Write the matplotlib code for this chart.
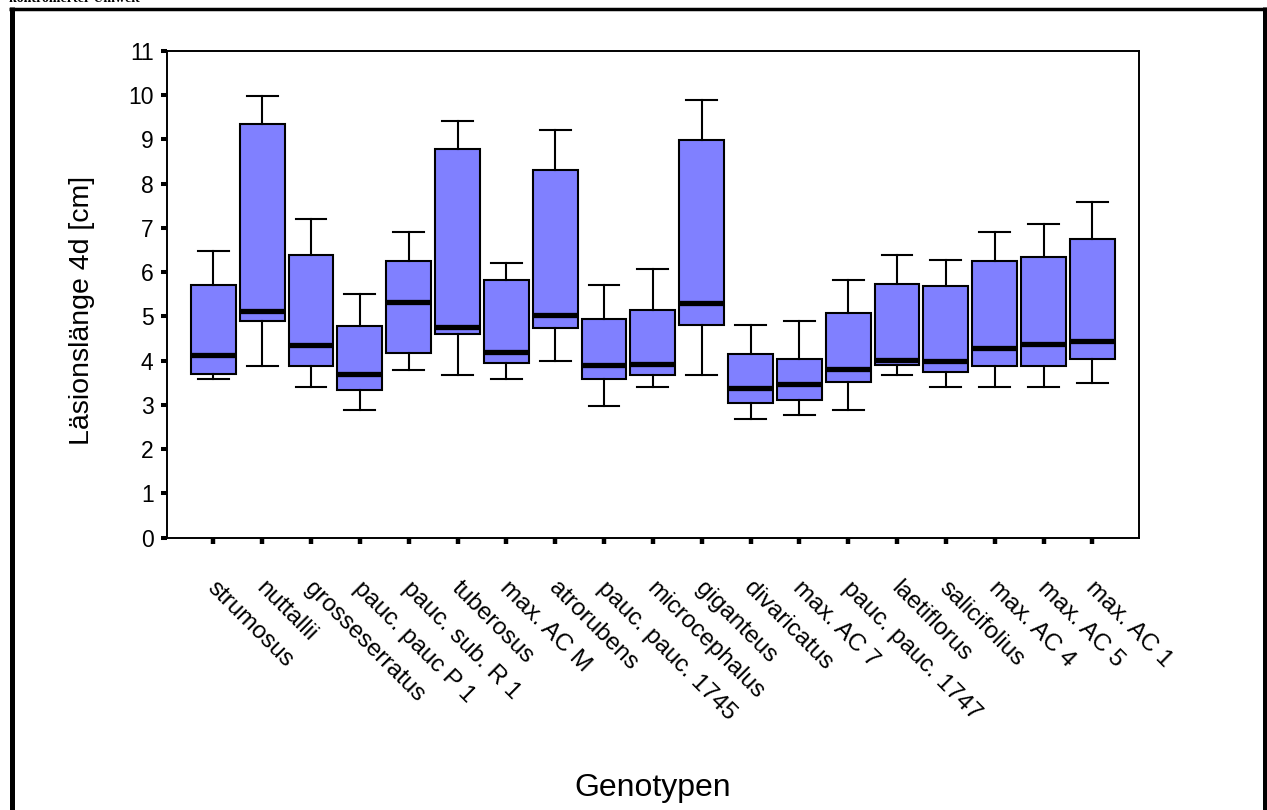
import matplotlib
matplotlib.use("Agg")
import matplotlib.pyplot as plt
from matplotlib.lines import Line2D
from matplotlib.transforms import ScaledTranslation

plt.rcParams['font.family'] = ['Liberation Sans', 'DejaVu Sans']

genotypes = ['strumosus', 'nuttallii', 'grosseserratus', 'pauc. pauc P 1',
             'pauc. sub. R 1', 'tuberosus', 'max. AC M', 'atrorubens',
             'pauc. pauc. 1745', 'microcephalus', 'giganteus', 'divaricatus',
             'max. AC 7', 'pauc. pauc. 1747', 'laetiflorus', 'salicifolius',
             'max. AC 4', 'max. AC 5', 'max. AC 1']

# lesion length after 4 days [cm]
whisker_low = [3.59, 3.88, 3.40, 2.88, 3.78, 3.68, 3.59, 3.98, 2.97, 3.40,
               3.68, 2.68, 2.78, 2.88, 3.68, 3.40, 3.40, 3.40, 3.49]
q1 = [3.69, 4.89, 3.88, 3.33, 4.18, 4.60, 3.95, 4.73, 3.59, 3.68,
      4.80, 3.04, 3.10, 3.52, 3.89, 3.75, 3.88, 3.88, 4.04]
median = [4.13, 5.13, 4.35, 3.70, 5.32, 4.77, 4.19, 5.03, 3.90, 3.93,
          5.29, 3.38, 3.48, 3.80, 4.02, 3.99, 4.28, 4.38, 4.45]
q3 = [5.70, 9.34, 6.38, 4.79, 6.26, 8.79, 5.81, 8.30, 4.95, 5.14,
      8.98, 4.15, 4.04, 5.08, 5.73, 5.69, 6.25, 6.34, 6.74]
whisker_high = [6.48, 9.98, 7.20, 5.50, 6.91, 9.41, 6.20, 9.22, 5.70, 6.08,
                9.89, 4.80, 4.89, 5.81, 6.38, 6.28, 6.91, 7.09, 7.58]

stats = []
for i, name in enumerate(genotypes):
    stats.append({'label': name, 'whislo': whisker_low[i], 'q1': q1[i],
                  'med': median[i], 'q3': q3[i], 'whishi': whisker_high[i],
                  'fliers': []})

fig = plt.figure(figsize=(12.67, 8.10), dpi=100)
ax = fig.add_axes([166.7 / 1267, 1 - 537.7 / 810, 972.3 / 1267, 487 / 810])

positions = list(range(1, len(genotypes) + 1))
ax.bxp(stats, positions=positions, widths=0.92, capwidths=0.63,
       patch_artist=True, showfliers=False,
       boxprops=dict(facecolor='#8080ff', edgecolor='black', linewidth=1.5),
       medianprops=dict(color='black', linewidth=3.8, solid_capstyle='butt'),
       whiskerprops=dict(color='black', linewidth=1.5),
       capprops=dict(color='black', linewidth=1.5))

ax.set_xlim(0.045, 19.955)
ax.set_ylim(0, 11)
ax.set_yticks(range(0, 12))
ax.set_xticks(positions)
ax.set_xticklabels(genotypes, rotation=-45, ha='left', va='top',
                   rotation_mode='anchor', fontsize=17.5)
ax.tick_params(axis='y', labelsize=16.5, length=4.5, width=2.9, pad=5)
ax.tick_params(axis='x', length=4.5, width=3.2, pad=24)
shift = ScaledTranslation(5 / 100, 0, fig.dpi_scale_trans)
for lbl in ax.get_xticklabels():
    lbl.set_transform(lbl.get_transform() + shift)
for s in ax.spines.values():
    s.set_linewidth(1.4)

ax.set_ylabel('Läsionslänge 4d [cm]', fontsize=20.5, va='center')
ax.yaxis.set_label_coords(-0.0874, 0.4676)
ax.set_xlabel('Genotypen', fontsize=23, va='center')
ax.xaxis.set_label_coords(0.5, -0.514)

# outer frame (bottom edge lies below the picture)
fig.add_artist(Line2D([11.5 / 1267, 11.5 / 1267], [0, 1 - 7 / 810],
                      transform=fig.transFigure, color='black', linewidth=3.6,
                      solid_capstyle='butt'))
fig.add_artist(Line2D([1264.5 / 1267, 1264.5 / 1267], [0, 1 - 7 / 810],
                      transform=fig.transFigure, color='black', linewidth=3.6,
                      solid_capstyle='butt'))
fig.add_artist(Line2D([9 / 1267, 1267 / 1267], [1 - 8.5 / 810, 1 - 8.5 / 810],
                      transform=fig.transFigure, color='black', linewidth=2.5,
                      solid_capstyle='butt'))

# caption line, cut off at the top edge as in the original
fig.text(9 / 1267, 1 - 2 / 810, 'kontrollierter Umwelt', ha='left', va='baseline',
         fontsize=10, fontweight='bold', family=['Liberation Serif', 'DejaVu Serif'])

fig.savefig('out.png', dpi=100)
